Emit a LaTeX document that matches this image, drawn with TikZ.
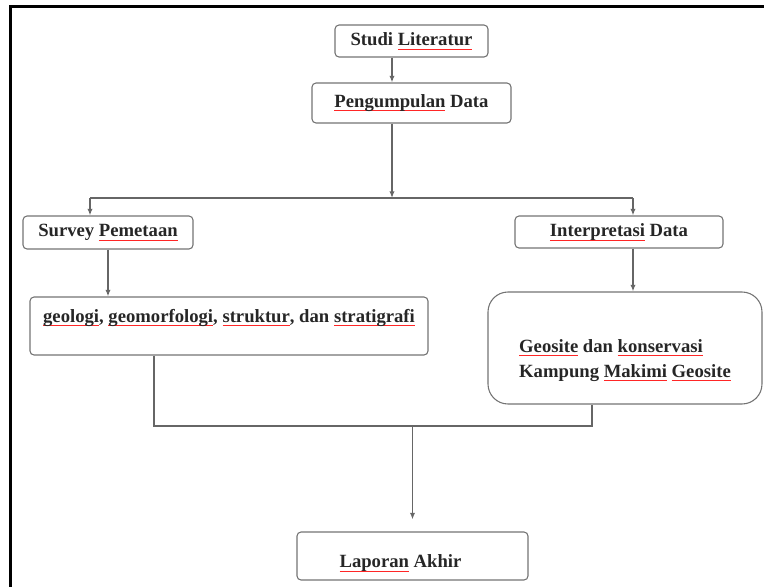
\documentclass[tikz,border=0pt]{standalone}
\usepackage{fontspec}
\setmainfont{Liberation Serif}
\usepackage{xcolor}
\usetikzlibrary{arrows.meta}

% red spell-check line under a word
\newsavebox\spellbox
\newcommand{\spell}[1]{\sbox\spellbox{#1}\rlap{\textcolor{red!85!white}{\rule[-2.8pt]{\wd\spellbox}{0.5pt}}}\usebox\spellbox}

\begin{document}
\begin{tikzpicture}[x=0.75pt,y=-0.75pt,
  box/.style={draw=black!55, line width=0.8pt, rounded corners=3pt, inner sep=0pt,
    font=\fontsize{14}{18.75}\selectfont\bfseries, text=black!85},
  link/.style={draw=black!60, line width=1.1pt},
  arr/.style={link, -{Latex[length=5pt,width=4pt]}}]
  \useasboundingbox (0,0) rectangle (764,586);
  % page frame
  \draw[line width=2.3pt] (10.5,600) -- (10.5,6.5) -- (780,6.5);

  \node[box, minimum width=114.75pt, minimum height=24pt] (studi) at (411.5,41) {Studi \spell{Literatur}};
  \node[box, minimum width=149.25pt, minimum height=30pt] (pengumpulan) at (411.5,103) {\spell{Pengumpulan} Data};
  \node[box, minimum width=127.5pt, minimum height=24.75pt] (survey) at (108,232.5) {Survey \spell{Pemetaan}};
  \node[box, minimum width=156pt, minimum height=24pt] (interp) at (619,232) {\spell{Interpretasi} Data};
  \node[box, minimum width=298.5pt, minimum height=43.5pt, text height=9.75pt, text depth=15.75pt] (geologi) at (229,326)
    {\spell{geologi}, \spell{geomorfologi}, \spell{struktur}, dan \spell{stratigrafi}};
  \node[box, rounded corners=15pt, minimum width=205.5pt, minimum height=84pt, align=left] (geosite) at (625,348)
    {\rule{0pt}{28pt}\spell{Geosite} dan \spell{konservasi}\\Kampung \spell{Makimi} \spell{Geosite}};
  \node[box, minimum width=173.25pt, minimum height=36pt, text height=20.25pt, text depth=3pt] (laporan) at (412.5,556)
    {\spell{Laporan} Akhir\hspace*{18pt}};

  \coordinate (split) at (392,198);
  \coordinate (spl) at (90,198);
  \coordinate (spr) at (633,198);
  \coordinate (jl) at (154,426);
  \coordinate (jr) at (592,426);

  \draw[arr] (studi.south -| split) -- (pengumpulan.north -| split);
  \draw[arr] (pengumpulan.south -| split) -- (split);
  \draw[link] (spl) -- (spr);
  \draw[arr] (spl) -- (survey.north -| spl);
  \draw[arr] (spr) -- (interp.north -| spr);
  \draw[arr] (survey.south) -- (geologi.north -| survey.south);
  \draw[arr] (interp.south -| spr) -- (geosite.north -| spr);
  \draw[link] (geologi.south -| jl) -- (jl) -- (jr) -- (geosite.south -| jr);
  \draw[arr, shorten >=9pt] (jl -| laporan) -- (laporan.north);
\end{tikzpicture}
\end{document}
